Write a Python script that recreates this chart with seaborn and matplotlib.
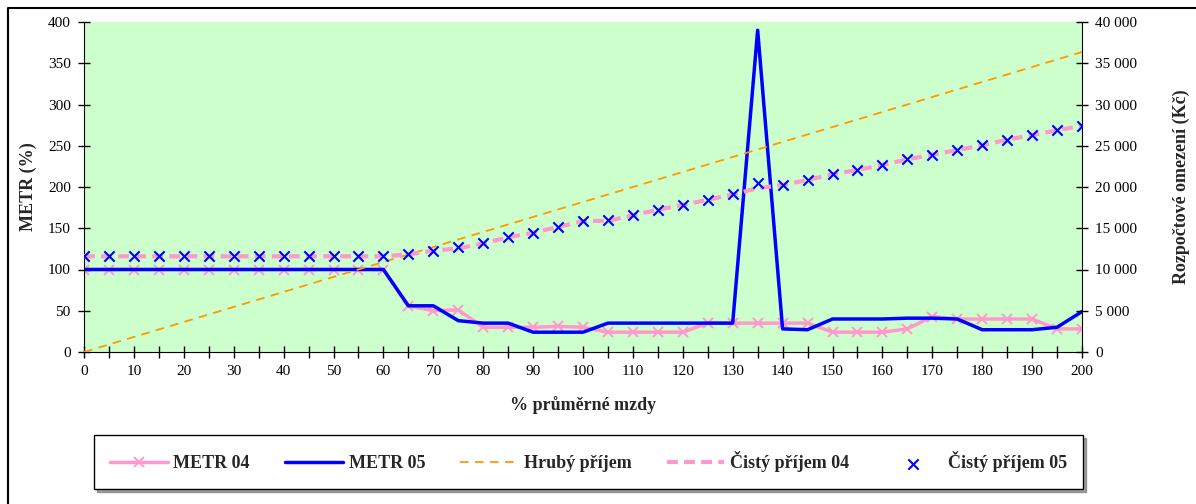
import matplotlib
matplotlib.use("Agg")
import matplotlib.pyplot as plt
from matplotlib.lines import Line2D
from matplotlib.ticker import MultipleLocator, FuncFormatter
import seaborn as sns

sns.set_style("ticks")
plt.rcParams['font.family'] = ['Liberation Serif', 'DejaVu Serif']

# ---- data ----
pct = [0, 5, 10, 15, 20, 25, 30, 35, 40, 45, 50, 55, 60, 65, 70, 75, 80, 85, 90, 95,
       100, 105, 110, 115, 120, 125, 130, 135, 140, 145, 150, 155, 160, 165, 170, 175,
       180, 185, 190, 195, 200]

metr04 = [100, 100, 100, 100, 100, 100, 100, 100, 100, 100, 100, 100, 100,
          56, 50, 51, 30, 30, 30, 31, 30, 24, 24, 24, 24, 35, 35, 35, 35, 35,
          24, 24, 24, 28, 43, 40, 40, 40, 40, 28, 28]

metr05 = [100, 100, 100, 100, 100, 100, 100, 100, 100, 100, 100, 100, 100,
          56, 56, 38, 35, 35, 24, 24, 24, 35, 35, 35, 35, 35, 35, 390, 28, 27,
          40, 40, 40, 41, 41, 40, 27, 27, 27, 30, 49]

hruby = [0, 910, 1820, 2730, 3640, 4550, 5460, 6370, 7280, 8190, 9100, 10000, 10910,
         11820, 12730, 13640, 14550, 15460, 16370, 17280, 18180, 19090, 20000, 20910,
         21820, 22730, 23640, 24550, 25460, 26370, 27270, 28180, 29090, 30000, 30910,
         31820, 32730, 33640, 34550, 35460, 36360]

cisty04 = [11600, 11600, 11600, 11600, 11600, 11600, 11600, 11600, 11600, 11600, 11600,
           11600, 11600, 11840, 12280, 12550, 13170, 13900, 14460, 15150, 15880, 15900,
           16570, 17250, 17820, 18460, 19100, 19850, 20250, 20850, 21540, 22060, 22670,
           23350, 23920, 24480, 25050, 25740, 26300, 26870, 27430]

cisty05 = [11600, 11600, 11600, 11600, 11600, 11600, 11600, 11600, 11600, 11600, 11600,
           11600, 11600, 11840, 12280, 12690, 13170, 13900, 14460, 15150, 15880, 16000,
           16570, 17250, 17820, 18460, 19100, 20450, 20280, 20850, 21540, 22060, 22670,
           23350, 23920, 24480, 25050, 25740, 26300, 26870, 27430]

labels = ["METR 04", "METR 05", "Hrubý příjem", "Čistý příjem 04", "Čistý příjem 05"]

PINK = "#FF99CC"
BLUE = "#0000FF"
ORANGE = "#FF9900"
GREEN = "#CCFFCC"

fig = plt.figure(figsize=(11.96, 5.04), dpi=100)
ax = fig.add_axes([84 / 1196, 152 / 504, 998 / 1196, 330 / 504])
ax.set_facecolor(GREEN)
ax2 = ax.twinx()

sns.lineplot(x=pct, y=metr04, ax=ax, color=PINK, linewidth=2.5, marker='x',
             markersize=7.5, markeredgewidth=1.4, markeredgecolor=PINK,
             label=labels[0], legend=False)
sns.lineplot(x=pct, y=metr05, ax=ax, color=BLUE, linewidth=2.5,
             label=labels[1], legend=False)

sns.lineplot(x=pct, y=hruby, ax=ax2, color=ORANGE, linewidth=1.3,
             linestyle=(0, (4.8, 3.5)), label=labels[2], legend=False)
sns.lineplot(x=pct, y=cisty04, ax=ax2, color=PINK, linewidth=3.0,
             linestyle=(0, (2.6, 1.5)), label=labels[3], legend=False)
sns.scatterplot(x=pct, y=cisty05, ax=ax2, color=BLUE, marker='x', s=55,
                linewidth=1.5, label=labels[4], legend=False, zorder=5)

ax.set_xlim(0, 200)
ax.set_ylim(0, 400)
ax2.set_ylim(0, 40000)

ax.xaxis.set_major_locator(MultipleLocator(10))
ax.xaxis.set_minor_locator(MultipleLocator(5))
ax.yaxis.set_major_locator(MultipleLocator(50))
ax2.yaxis.set_major_locator(MultipleLocator(5000))
ax2.yaxis.set_major_formatter(FuncFormatter(lambda v, p: f"{int(v):,}".replace(",", " ")))

for a in (ax, ax2):
    a.tick_params(axis='both', which='both', direction='inout', length=8, width=1,
                  labelsize=11, colors='black', pad=5.5)
    a.spines['top'].set_visible(False)
ax.spines['right'].set_visible(False)
ax2.spines['left'].set_visible(False)
ax2.spines['bottom'].set_visible(False)
for s in ('left', 'bottom'):
    ax.spines[s].set_color('black')
ax2.spines['right'].set_color('black')

lab_font = dict(fontsize=13, fontweight='bold')
ax.set_xlabel("% průměrné mzdy", **lab_font)
ax.set_ylabel("METR (%)", **lab_font)
ax2.set_ylabel("Rozpočtové omezení (Kč)", **lab_font)
ax.xaxis.set_label_coords(0.5, -0.133)
ax.yaxis.set_label_coords(-0.047, 0.5)
ax2.yaxis.set_label_coords(1.091, 0.5)

# outer chart border (left & top visible)
bx = 8 / 1196
by = 1 - 8 / 504
fig.add_artist(Line2D([bx, bx, 1.0], [0.0, by, by], color='black', linewidth=1.5,
                      transform=fig.transFigure))

h1, l1 = ax.get_legend_handles_labels()
h2, l2 = ax2.get_legend_handles_labels()
leg = fig.legend(h1 + h2, l1 + l2, loc='center', ncol=5, mode='expand',
                 bbox_to_anchor=(85 / 1196, 1 - 490 / 504, 1007 / 1196, 56 / 504),
                 prop=dict(family='Liberation Serif', weight='bold', size=13),
                 frameon=True, fancybox=False, shadow=True, edgecolor='black',
                 handlelength=3.2, handletextpad=0.3, borderpad=0.9,
                 numpoints=1, scatterpoints=1)
leg.get_frame().set_linewidth(1.0)

fig.savefig("out.png", dpi=100)
